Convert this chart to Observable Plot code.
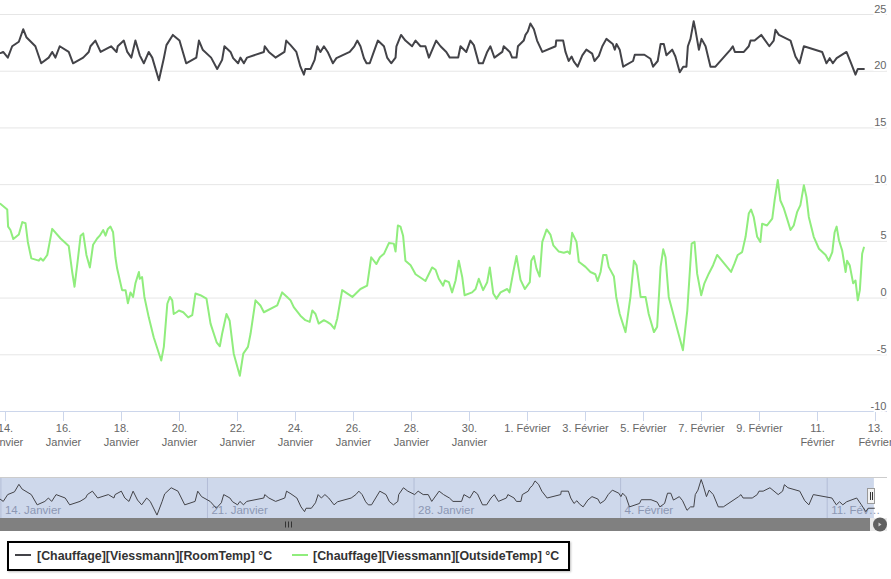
<!DOCTYPE html>
<html>
<head>
<meta charset="utf-8">
<script src="https://cdn.jsdelivr.net/npm/d3@7"></script>
<script src="https://cdn.jsdelivr.net/npm/@observablehq/plot@0.6"></script>
<style>
  body { margin: 0; background: #fff; font-family: 'Liberation Sans', Arial, sans-serif; }
  #wrap { position: relative; width: 891px; height: 579px; overflow: hidden; background: #fff; }
  #main { position: absolute; left: 0; top: 0; }
  #nav { position: absolute; left: 0; top: 470px; }
  #chrome { position: absolute; left: 0; top: 0; pointer-events: none; }
  #legend { position: absolute; left: 7px; top: 541px; width: 559px; height: 26px;
            border: 2px solid #000; background: #fff; box-shadow: 1px 1px 2px rgba(0,0,0,0.25); }
  .item { position: absolute; top: 0; height: 26px; line-height: 27px; font-weight: bold;
          font-size: 12.4px; color: #333; white-space: nowrap; }
  .sym { position: absolute; top: 11px; width: 16px; height: 2px; }
</style>
</head>
<body>
<div id="wrap">
  <div id="main"></div>
  <div id="nav"></div>
  <svg id="chrome" width="891" height="579">
    <rect x="0" y="518" width="870" height="13" fill="#808080"/>
    <rect x="870" y="518" width="17" height="13" fill="#e8e8e8"/>
    <circle cx="880" cy="524.5" r="7" fill="#606060"/>
    <path d="M878.5 522.5 L881.5 524.5 L878.5 526.5 Z" fill="#d0d0d0"/>
    <g stroke="#333" stroke-width="1">
      <line x1="285.5" y1="521.5" x2="285.5" y2="527.5"/>
      <line x1="288.5" y1="521.5" x2="288.5" y2="527.5"/>
      <line x1="291.5" y1="521.5" x2="291.5" y2="527.5"/>
    </g>
    <rect x="867.5" y="488.5" width="7" height="15" fill="#f2f2f2" stroke="#999"/>
    <g stroke="#333" stroke-width="1">
      <line x1="870.5" y1="492" x2="870.5" y2="500"/>
      <line x1="872.5" y1="492" x2="872.5" y2="500"/>
    </g>
  </svg>
  <div id="legend">
    <span class="sym" style="left:6px;background:#434348"></span>
    <span class="item" style="left:28px">[Chauffage][Viessmann][RoomTemp] °C</span>
    <span class="sym" style="left:283px;background:#90ed7d"></span>
    <span class="item" style="left:304px">[Chauffage][Viessmann][OutsideTemp] °C</span>
  </div>
</div>
<script>
// ---- data (days since 14 Jan, °C) ----
const roomDay = [-0.17,-0.08,0.08,0.23,0.46,0.61,0.72,1.03,1.23,1.49,
  1.61,1.72,1.87,2.18,2.33,2.68,2.87,2.93,3.10,3.28,
  3.64,3.83,3.87,4.08,4.20,4.34,4.48,4.63,4.77,4.94,
  5.06,5.29,5.46,5.55,5.77,6.00,6.23,6.58,6.67,6.80,
  7.09,7.30,7.47,7.55,7.76,7.85,8.02,8.10,8.22,8.33,
  8.91,8.94,9.08,9.31,9.62,9.68,9.83,10.03,10.17,10.29,
  10.34,10.52,10.66,10.75,10.86,10.98,11.11,11.29,11.41,11.87,
  12.03,12.13,12.24,12.36,12.45,12.56,12.70,12.84,13.05,13.16,
  13.30,13.45,13.48,13.64,13.79,14.02,14.14,14.31,14.48,14.60,
  14.85,15.00,15.20,15.32,15.61,15.69,15.89,16.03,16.15,16.32,
  16.46,16.61,16.72,16.86,17.13,17.18,17.39,17.47,17.62,17.67,
  17.87,17.93,18.01,18.10,18.22,18.33,18.51,18.97,18.99,19.23,
  19.31,19.42,19.52,19.60,19.73,19.89,20.03,20.23,20.31,20.46,
  20.58,20.72,20.94,21.01,21.07,21.18,21.30,21.64,21.70,22.03,
  22.24,22.33,22.49,22.59,22.70,22.79,22.99,23.10,23.25,23.37,
  23.48,23.53,23.62,23.73,23.79,23.91,24.00,24.14,24.31,24.48,
  25.00,25.08,25.15,25.46,25.63,25.69,25.83,26.06,26.34,26.49,
  26.55,26.67,27.07,27.24,27.38,27.53,28.16,28.31,28.42,28.53,
  28.66,29.00,29.16,29.31,29.39,29.60];
const roomTemp = [21.6,21.7,21.2,22.2,22.6,23.7,23.0,22.2,20.7,21.2,
  21.7,21.2,22.2,21.7,20.7,21.2,21.7,22.2,22.7,21.7,
  22.2,21.7,22.2,22.7,21.7,21.2,22.7,21.4,20.7,21.7,
  21.2,19.2,21.15,22.3,23.2,22.7,20.7,21.2,22.7,21.9,
  21.2,20.2,21.0,22.2,21.7,21.15,20.7,21.2,20.7,21.2,
  21.7,22.2,21.7,21.2,21.7,22.7,22.3,21.7,20.4,19.7,
  20.2,20.2,21.0,22.2,21.7,22.2,21.7,20.7,21.15,21.7,
  22.2,22.7,22.2,21.15,20.7,20.7,21.7,22.7,22.2,21.2,
  20.7,21.2,22.2,23.2,22.7,22.2,22.7,22.2,22.2,21.2,
  22.7,22.2,21.7,21.2,21.2,22.2,21.7,22.7,22.3,20.7,
  20.7,21.7,22.2,21.2,21.7,22.2,21.7,21.2,21.2,22.2,
  22.7,23.2,23.5,24.2,23.7,22.7,21.7,22.2,22.7,22.7,
  21.7,20.9,21.3,20.85,20.4,21.4,21.9,21.55,20.9,21.35,
  22.2,22.85,22.4,21.9,22.4,21.9,20.4,20.9,21.45,21.45,
  21.1,20.4,20.9,22.4,22.4,21.4,21.9,21.3,19.9,20.4,
  20.4,22.2,22.85,24.4,23.65,21.9,22.85,22.2,20.4,20.4,
  21.9,22.2,21.7,21.7,22.2,22.7,22.7,23.2,22.2,22.7,
  23.65,23.2,22.7,21.3,20.7,22.2,21.7,20.7,21.15,20.7,
  21.15,21.7,20.7,19.7,20.2,20.2];

const outsideDay = [-0.17,0.06,0.09,0.17,0.27,0.46,0.58,0.69,0.77,0.89,
  1.15,1.21,1.30,1.44,1.61,1.90,2.18,2.30,2.38,2.49,
  2.59,2.68,2.79,2.91,3.02,3.16,3.25,3.37,3.45,3.53,
  3.62,3.71,3.79,3.85,4.02,4.14,4.22,4.31,4.40,4.48,
  4.60,4.63,4.71,4.79,4.94,5.11,5.37,5.46,5.58,5.67,
  5.75,5.80,5.90,5.98,6.13,6.30,6.44,6.55,6.72,6.93,
  7.07,7.28,7.39,7.47,7.62,7.73,7.87,8.08,8.20,8.36,
  8.45,8.62,8.79,8.91,9.37,9.54,9.71,9.83,9.94,10.17,
  10.34,10.49,10.58,10.69,10.80,10.98,11.09,11.21,11.34,11.44,
  11.61,11.96,12.24,12.47,12.61,12.79,12.91,13.05,13.22,13.39,
  13.45,13.53,13.62,13.71,13.79,13.97,14.14,14.37,14.48,14.71,
  14.83,14.94,15.09,15.15,15.29,15.40,15.52,15.63,15.75,15.83,
  16.09,16.21,16.32,16.47,16.61,16.70,16.82,16.93,17.07,17.30,
  17.38,17.51,17.62,17.76,17.91,18.08,18.13,18.22,18.31,18.42,
  18.51,18.66,18.79,18.89,19.08,19.25,19.39,19.46,19.54,19.69,
  19.77,20.00,20.17,20.34,20.42,20.52,20.61,20.72,20.80,20.98,
  21.06,21.18,21.38,21.55,21.67,21.76,21.90,22.07,22.18,22.36,
  22.47,22.59,22.68,22.76,22.87,23.16,23.36,23.51,23.66,23.76,
  23.85,23.99,24.10,24.25,24.40,24.54,25.02,25.14,25.25,25.40,
  25.52,25.63,25.71,25.80,25.92,26.03,26.09,26.26,26.44,26.52,
  26.63,26.72,26.84,26.95,27.07,27.18,27.30,27.41,27.53,27.62,
  27.70,27.87,28.05,28.28,28.39,28.51,28.59,28.66,28.74,28.85,
  28.97,29.02,29.11,29.23,29.31,29.39,29.46,29.54,29.60];
const outsideTemp = [8.3,7.8,6.3,6.0,5.2,5.6,6.7,6.6,4.95,3.5,
  3.3,3.5,3.3,3.8,6.1,5.25,4.6,2.3,1.0,3.3,
  5.5,5.7,3.8,2.7,4.7,5.25,5.5,6.0,5.5,6.1,
  6.3,5.8,3.6,2.6,0.7,0.7,-0.45,0.5,0.1,1.3,
  2.3,1.7,1.85,0.1,-1.7,-3.45,-5.5,-4.3,-0.5,0.1,
  -0.2,-1.4,-1.25,-1.1,-1.25,-1.7,-1.5,0.4,0.25,-0.05,
  -2.25,-3.9,-4.25,-3.15,-1.4,-2.0,-4.9,-6.85,-4.9,-4.3,
  -3.15,-0.2,-0.65,-1.25,-0.65,0.5,0.1,-0.2,-0.8,-1.55,
  -1.95,-2.1,-1.1,-1.4,-2.25,-1.95,-2.1,-2.3,-2.7,-1.8,
  0.7,0.1,0.8,1.1,3.6,3.0,3.6,3.9,4.85,4.8,
  4.1,6.4,6.3,5.5,3.3,2.9,2.1,1.7,1.5,2.7,
  2.5,1.7,1.1,1.55,1.4,0.5,1.55,3.3,1.85,0.25,
  0.5,0.8,1.7,0.7,1.4,2.7,0.4,-0.05,0.5,0.8,
  0.5,2.3,3.7,1.6,0.8,1.4,3.3,3.7,2.6,1.9,
  4.95,6.05,5.6,4.65,4.1,4.0,4.1,3.9,5.75,4.95,
  3.2,2.75,2.3,2.1,1.5,2.3,3.8,3.8,2.75,1.9,
  0.1,-1.4,-3.0,0.1,3.3,2.9,0.1,0.1,-1.4,-3.0,
  -2.55,2.75,4.3,3.6,0.1,-2.7,-4.6,-1.1,4.8,4.95,
  2.15,0.25,1.3,2.15,2.9,3.8,2.3,3.05,3.8,4.05,
  5.4,7.45,7.8,7.15,5.4,4.95,6.55,6.4,7.0,8.6,
  10.4,8.6,7.9,7.0,6.0,6.4,7.6,8.2,9.95,8.9,
  7.15,5.4,4.35,3.8,3.3,4.05,5.8,6.3,5.1,4.2,
  2.3,3.3,2.9,1.3,1.55,-0.2,0.7,3.9,4.45];

const yTicks = [-10, -5, 0, 5, 10, 15, 20, 25];
const yTickLabels = ["-10", "-5", "0", "5", "10", "15", "20", "25"];

const xTickDates = ["2018-01-14","2018-01-16","2018-01-18","2018-01-20","2018-01-22","2018-01-24",
  "2018-01-26","2018-01-28","2018-01-30","2018-02-01","2018-02-03","2018-02-05","2018-02-07",
  "2018-02-09","2018-02-11","2018-02-13"];
const xTickLabels = ["14.\nJanvier","16.\nJanvier","18.\nJanvier","20.\nJanvier","22.\nJanvier",
  "24.\nJanvier","26.\nJanvier","28.\nJanvier","30.\nJanvier","1. Février","3. Février",
  "5. Février","7. Février","9. Février","11.\nFévrier","13.\nFévrier"];

const navTickDates = ["2018-01-14","2018-01-21","2018-01-28","2018-02-04","2018-02-11"];
const navTickLabels = ["14. Janvier","21. Janvier","28. Janvier","4. Février","11. Fév…"];

// ---- build ----
const START = Date.UTC(2018, 0, 14);
const toDate = t => new Date(START + t * 864e5);
const room = roomDay.map((t, i) => ({date: toDate(t), value: roomTemp[i]}));
const outside = outsideDay.map((t, i) => ({date: toDate(t), value: outsideTemp[i]}));
const xTicks = xTickDates.map(s => new Date(s + "T00:00:00Z"));
const xLabelMap = new Map(xTicks.map((d, i) => [+d, xTickLabels[i]]));
const navTicks = navTickDates.map(s => new Date(s + "T00:00:00Z"));
const FONT = "'Liberation Sans', Arial, sans-serif";

const main = Plot.plot({
  width: 891, height: 470,
  marginLeft: 0, marginRight: 4, marginTop: 14, marginBottom: 59,
  style: {fontFamily: FONT, fontSize: "11px", background: "transparent"},
  x: {type: "utc", domain: [toDate(-5 / 29), toDate(882 / 29)]},
  y: {domain: [-10, 25], axis: null},
  marks: [
    Plot.gridY(yTicks, {stroke: "#e6e6e6", strokeOpacity: 1}),
    Plot.ruleY([-10], {stroke: "#ccd6eb"}),
    Plot.axisX(xTicks, {tickSize: 10, tickPadding: 1, stroke: "#ccd6eb", fill: "#666",
      fontSize: 11, lineHeight: 1.27, label: null, tickFormat: d => xLabelMap.get(+d)}),
    Plot.text(yTicks, {y: d => d, text: (d, i) => yTickLabels[i], frameAnchor: "right",
      textAnchor: "end", lineAnchor: "bottom", dx: -1, dy: -2, fill: "#666",
      stroke: "white", strokeWidth: 4, fontSize: 11}),
    Plot.line(outside, {x: "date", y: "value", stroke: "#90ed7d", strokeWidth: 2}),
    Plot.line(room, {x: "date", y: "value", stroke: "#434348", strokeWidth: 2})
  ]
});
document.getElementById("main").appendChild(main);

const navDomain = [toDate(-0.4 / 29.51), toDate(886.6 / 29.51)];
const navY = [18.7, 24.7];
const selection = [{from: navDomain[0], to: room[room.length - 1].date}];
const nav = Plot.plot({
  width: 891, height: 64,
  marginLeft: 0, marginRight: 4, marginTop: 7, marginBottom: 16,
  style: {fontFamily: FONT, fontSize: "11px", background: "transparent"},
  x: {type: "utc", domain: navDomain, axis: null},
  y: {domain: navY, axis: null},
  marks: [
    Plot.rect(selection, {x1: "from", x2: "to", fill: "rgb(102,133,194)", fillOpacity: 0.32}),
    Plot.ruleX(navTicks, {stroke: "#b3bdd6"}),
    Plot.text(navTicks, {x: d => d, text: (d, i) => navTickLabels[i], frameAnchor: "bottom",
      textAnchor: "start", lineAnchor: "bottom", dx: 4, dy: -5, fill: "#8c97b3", fontSize: 11.5}),
    Plot.line(room, {x: "date", y: "value", stroke: "#434348", strokeWidth: 1}),
    Plot.ruleY([navY[1]], {stroke: "#cccccc"})
  ]
});
document.getElementById("nav").appendChild(nav);
</script>
</body>
</html>
